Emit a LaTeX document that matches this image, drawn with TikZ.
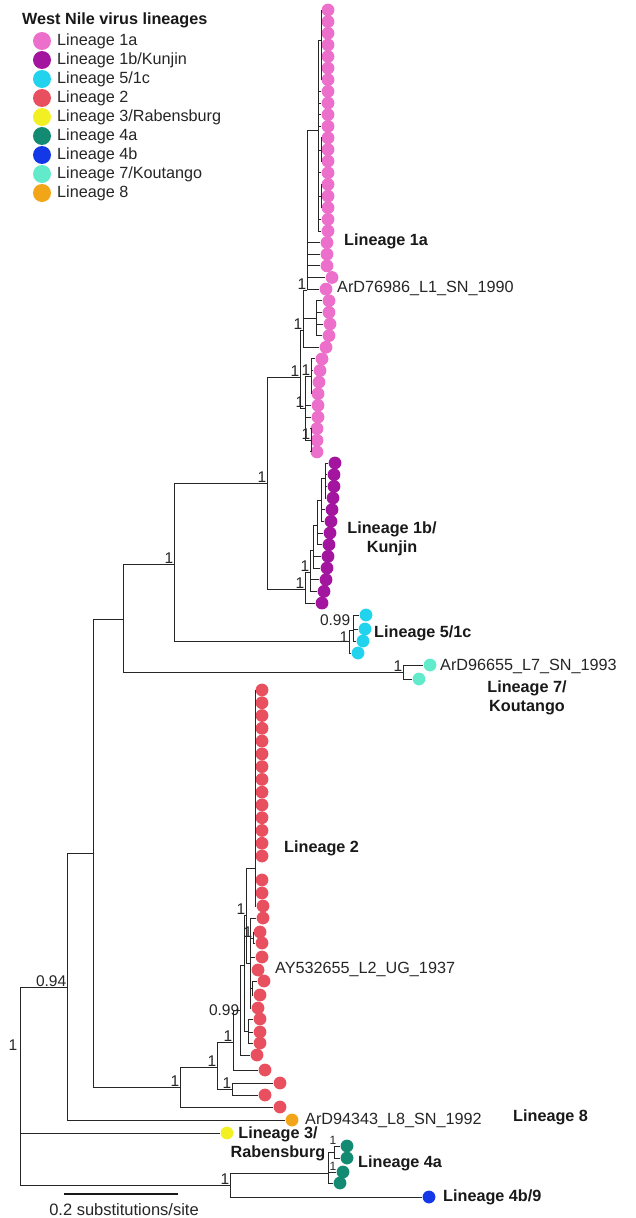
\documentclass[tikz,border=0pt]{standalone}
\usepackage{fontspec}
\setmainfont{Liberation Sans}
\definecolor{cA}{HTML}{EC6FCB}
\definecolor{cB}{HTML}{E8505F}
\definecolor{cP}{HTML}{A3149F}
\definecolor{cC}{HTML}{22D3EE}
\definecolor{cY}{HTML}{F2F022}
\definecolor{cT}{HTML}{138A72}
\definecolor{cU}{HTML}{1438E8}
\definecolor{cK}{HTML}{62EBCB}
\definecolor{cO}{HTML}{F2A516}
\begin{document}
\begin{tikzpicture}[x=1pt,y=-1pt,
  br/.style={draw=black!85, line width=0.9pt},
  leaf/.style={circle, inner sep=0pt, minimum size=12.8pt, draw=none},
  lgd/.style={circle, inner sep=0pt, minimum size=18pt, draw=none},
  supl/.style={font=\fontsize{15.5}{16}\selectfont, inner sep=0.6pt, anchor=south east, text=black!85},
  lab/.style={font=\fontsize{16.2}{19}\selectfont, anchor=west, inner sep=0pt, text=black!85},
  blab/.style={font=\fontsize{16.2}{19}\selectfont\bfseries, inner sep=0pt, align=center, text=black!90},
]
\useasboundingbox (0,0) rectangle (635,1218);
\fill[white] (0,0) rectangle (635,1218);

% ---------------- legend ----------------
\node[blab, anchor=west] (ltitle) at (22,20) {West Nile virus lineages};
\foreach \k/\c/\t in {0/cA/{Lineage 1a},1/cP/{Lineage 1b/Kunjin},2/cC/{Lineage 5/1c},3/cB/{Lineage 2},4/cY/{Lineage 3/Rabensburg},5/cT/{Lineage 4a},6/cU/{Lineage 4b},7/cK/{Lineage 7/Koutango},8/cO/{Lineage 8}}{
  \node[lgd, fill=\c] (lg\k) at (42,{41+19*\k}) {};
  \node[lab] (lt\k) at (57,{41+19*\k}) {\t};
}

% ---------------- leaves ----------------
% lineage 1a
\foreach \i/\x in {0/328,1/328,2/328,3/328,4/328,5/328,6/328,7/328,8/328,9/328,10/328,11/328,12/328,13/328,14/328,15/328,16/328,17/328,18/328,19/328,20/327,21/327,22/327,23/332,24/326,25/329,26/329,27/330,28/329,29/326,30/322,31/320,32/319,33/318,34/318,35/318,36/317,37/317,38/317}{
  \node[leaf, fill=cA] (A\i) at (\x,{10+11.63*\i}) {};
}
% lineage 1b
\foreach \i/\x in {1/335,2/334,3/334,4/333,5/332,6/331,7/330,8/329,9/328,10/327,11/326,12/324,13/322}{
  \node[leaf, fill=cP] (P\i) at (\x,{463+11.67*(\i-1)}) {};
}
% lineage 5/1c
\node[leaf, fill=cC] (C1) at (366,615) {};
\node[leaf, fill=cC] (C2) at (365,629) {};
\node[leaf, fill=cC] (C3) at (363,641) {};
\node[leaf, fill=cC] (C4) at (358,653) {};
% lineage 7
\node[leaf, fill=cK] (K1) at (430,665) {};
\node[leaf, fill=cK] (K2) at (419,679) {};
% lineage 2
\foreach \i in {0,...,13}{
  \node[leaf, fill=cB] (U\i) at (262,{690+12.77*\i}) {};
}
\foreach \i/\x/\y in {1/262/880,2/262/893,3/263/906,4/263/918,5/260/932,6/262/943,7/262/957,8/258/970,9/264/981,10/260/995,11/258/1008,12/260/1019,13/260/1032,14/260/1043,15/257/1055}{
  \node[leaf, fill=cB] (L\i) at (\x,\y) {};
}
\node[leaf, fill=cB] (O1) at (265,1070) {};
\node[leaf, fill=cB] (O2) at (280,1083) {};
\node[leaf, fill=cB] (O3) at (265,1095) {};
\node[leaf, fill=cB] (O4) at (280,1107) {};
% lineage 8, 3, 4
\node[leaf, fill=cO] (E8) at (292,1120) {};
\node[leaf, fill=cY] (Y3) at (227,1133) {};
\node[leaf, fill=cT] (T1) at (347,1146) {};
\node[leaf, fill=cT] (T2) at (347,1158) {};
\node[leaf, fill=cT] (T3) at (343,1172) {};
\node[leaf, fill=cT] (T4) at (340,1183) {};
\node[leaf, fill=cU] (B9) at (429,1197) {};

% ---------------- internal nodes ----------------
\coordinate (R)    at (20,1086);
\coordinate (N094) at (67,987);
\coordinate (N1)   at (93,853);
\coordinate (N2)   at (123,619);
\coordinate (N3)   at (174,564);
\coordinate (N4)   at (267,483);
\coordinate (N7)   at (403,672);
\coordinate (N5c)  at (349,641);
\coordinate (N5d)  at (353,630);
\coordinate (NA)   at (180,1087);
\coordinate (NB)   at (217,1067);
\coordinate (NC)   at (232,1089);
\coordinate (ND)   at (233,1042);
\coordinate (NE)   at (240,1010);
\coordinate (NG)   at (244,965);
\coordinate (NK)   at (248,1031);
\coordinate (NH)   at (246,915);
\coordinate (S)    at (255,868);
\coordinate (NM)   at (250,963);
\coordinate (NM2)  at (253,938);
\coordinate (N9)   at (252,988);
\coordinate (N1b)  at (305,589);
\coordinate (B1)   at (310,572);
\coordinate (B2)   at (313,550);
\coordinate (B3)   at (317,525);
\coordinate (B4)   at (321,500);
\coordinate (B5)   at (325,478);
\coordinate (N1a)  at (300,377);
\coordinate (Z1)   at (303,330);
\coordinate (Z2)   at (307,290);
\coordinate (Z3)   at (318,130);
\coordinate (Z4)   at (321,40);
\coordinate (Z3a)  at (321,150);
\coordinate (Z3b)  at (321,196);
\coordinate (Z5)   at (316,318);
\coordinate (Z9)   at (305,408);
\coordinate (Z10)  at (311,376);
\coordinate (Z11)  at (311,440);
\coordinate (N4r)  at (230,1185);
\coordinate (N4a)  at (328,1173);
\coordinate (N4a2) at (334,1152);

% ---------------- branches ----------------
\draw[br] (R) |- (N094);  \draw[br] (R) |- (Y3);  \draw[br] (R) |- (N4r);
\draw[br] (N094) |- (N1); \draw[br] (N094) |- (E8);
\draw[br] (N1) |- (N2);   \draw[br] (N1) |- (NA);
\draw[br] (N2) |- (N3);   \draw[br] (N2) |- (N7);
\draw[br] (N3) |- (N4);   \draw[br] (N3) |- (N5c);
\draw[br] (N4) |- (N1a);  \draw[br] (N4) |- (N1b);
\draw[br] (N7) |- (K1);   \draw[br] (N7) |- (K2);
\draw[br] (N5c) |- (N5d); \draw[br] (N5c) |- (C4);
\draw[br] (N5d) |- (C1);  \draw[br] (N5d) |- (C2); \draw[br] (N5d) |- (C3);
% lineage 2
\draw[br] (NA) |- (NB);   \draw[br] (NA) |- (O4);
\draw[br] (NB) |- (ND);   \draw[br] (NB) |- (NC);
\draw[br] (NC) |- (O2);   \draw[br] (NC) |- (O3);
\draw[br] (ND) |- (NE);   \draw[br] (ND) |- (O1);
\draw[br] (NE) |- (NG);   \draw[br] (NE) |- (L15);
\draw[br] (NG) |- (NH);   \draw[br] (NG) |- (NK);
\foreach \c in {12,13,14}{\draw[br] (NK) |- (L\c);}
\draw[br] (NH) |- (S);    \draw[br] (NH) |- (NM);
\foreach \c in {0,...,13}{\draw[br] (S) |- (U\c);}
\foreach \c in {1,2,3}{\draw[br] (S) |- (L\c);}
\draw[br] (NM) |- (L4);  \draw[br] (NM) |- (NM2); \draw[br] (NM) |- (L7);
\draw[br] (NM) |- (L8);  \draw[br] (NM) |- (N9);  \draw[br] (NM) |- (L11);
\draw[br] (NM2) |- (L5); \draw[br] (NM2) |- (L6);
\draw[br] (N9) |- (L9);  \draw[br] (N9) |- (L10);
% lineage 1b
\draw[br] (N1b) |- (B1); \draw[br] (N1b) |- (P13);
\draw[br] (B1) |- (B2);  \draw[br] (B1) |- (P11); \draw[br] (B1) |- (P12);
\draw[br] (B2) |- (B3);  \draw[br] (B2) |- (P9);  \draw[br] (B2) |- (P10);
\draw[br] (B3) |- (B4);  \draw[br] (B3) |- (P7);  \draw[br] (B3) |- (P8);
\draw[br] (B4) |- (B5);  \draw[br] (B4) |- (P5);  \draw[br] (B4) |- (P6);
\foreach \c in {1,2,3,4}{\draw[br] (B5) |- (P\c);}
% lineage 1a
\draw[br] (N1a) |- (Z1); \draw[br] (N1a) |- (Z9);
\draw[br] (Z1) |- (Z2);  \draw[br] (Z1) |- (Z5);  \draw[br] (Z1) |- (A29);
\foreach \c in {25,26,27,28}{\draw[br] (Z5) |- (A\c);}
\draw[br] (Z2) |- (Z3);
\foreach \c in {20,21,22,23,24}{\draw[br] (Z2) |- (A\c);}
\draw[br] (Z3) |- (Z4); \draw[br] (Z3) |- (Z3a); \draw[br] (Z3) |- (Z3b);
\foreach \c in {7,8,9,10,14,18,19}{\draw[br] (Z3) |- (A\c);}
\foreach \c in {11,12,13}{\draw[br] (Z3a) |- (A\c);}
\foreach \c in {15,16,17}{\draw[br] (Z3b) |- (A\c);}
\foreach \c in {0,...,6}{\draw[br] (Z4) |- (A\c);}
\draw[br] (Z9) |- (Z10); \draw[br] (Z9) |- (A34); \draw[br] (Z9) |- (A35); \draw[br] (Z9) |- (Z11);
\foreach \c in {30,31,32,33}{\draw[br] (Z10) |- (A\c);}
\foreach \c in {36,37,38}{\draw[br] (Z11) |- (A\c);}
% lineage 4
\draw[br] (N4r) |- (N4a); \draw[br] (N4r) |- (B9);
\draw[br] (N4a) |- (N4a2); \draw[br] (N4a) |- (T3); \draw[br] (N4a) |- (T4);
\draw[br] (N4a2) |- (T1); \draw[br] (N4a2) |- (T2);

% ---------------- support values ----------------
\node[supl, anchor=center] (sR) at (13,1045) {1};
\node[supl] (s094) at (N094) {0.94};
\foreach \n in {N3,N4,N7,NA,NB,NC,ND,NH,NM2,N1b,B1,N1a,Z1,Z2,Z9,Z10,Z11,N4r}{
  \node[supl] at (\n) {1};
}
\node[supl, anchor=south east] (s5c) at (349,643) {1};
\node[supl, anchor=east] (s5d) at (351,620) {0.99};
\node[supl, anchor=east] (sNE) at (NE) {0.99};
\node[supl, anchor=center, font=\fontsize{12}{12}\selectfont] (s4a2) at (333,1140) {1};
\node[supl, anchor=center, font=\fontsize{12}{12}\selectfont] (s4a) at (333,1166) {1};

% ---------------- labels ----------------
\node[blab, anchor=west] (l1a) at (344,241) {Lineage 1a};
\node[lab] (t1) at (337,288) {ArD76986\_L1\_SN\_1990};
\node[blab] (l1b) at (392,539) {Lineage 1b/\\Kunjin};
\node[blab, anchor=west] (l5) at (374,633) {Lineage 5/1c};
\node[lab] (t7) at (440,666) {ArD96655\_L7\_SN\_1993};
\node[blab] (l7) at (527,698) {Lineage 7/\\Koutango};
\node[blab, anchor=west] (l2) at (284,848) {Lineage 2};
\node[lab] (t2) at (275,969) {AY532655\_L2\_UG\_1937};
\node[lab] (t8) at (305,1120) {ArD94343\_L8\_SN\_1992};
\node[blab, anchor=west] (l8) at (513,1117) {Lineage 8};
\node[blab] (l3) at (278,1144) {Lineage 3/\\Rabensburg};
\node[blab, anchor=west] (l4a) at (358,1163) {Lineage 4a};
\node[blab, anchor=west] (l4b) at (443,1197) {Lineage 4b/9};

% ---------------- scale bar ----------------
\coordinate (sb1) at (64,1194);
\coordinate (sb2) at (178,1194);
\draw[line width=2.6pt, black!90] (sb1) -- (sb2);
\node[lab, anchor=center, font=\fontsize{16.5}{19}\selectfont] (sbt) at (124,1210) {0.2 substitutions/site};
\end{tikzpicture}
\end{document}
